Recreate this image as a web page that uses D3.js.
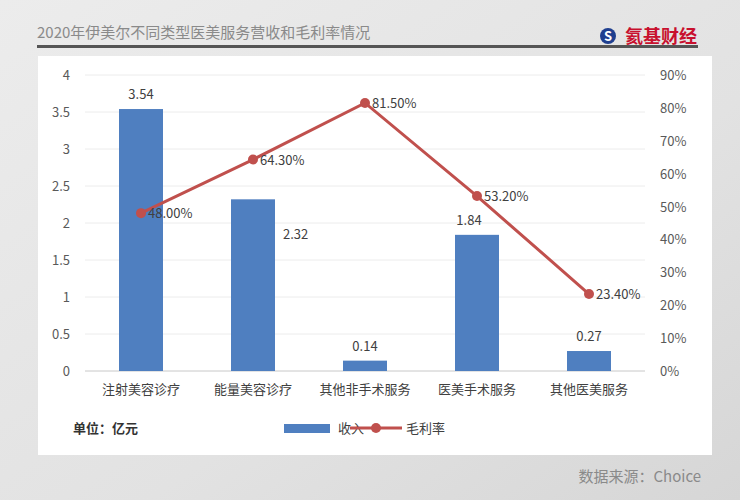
<!DOCTYPE html>
<html><head><meta charset="utf-8">
<script src="https://cdn.jsdelivr.net/npm/d3@7"></script>
<style>body{margin:0;background:#e6e6e6;}svg{display:block;}</style>
</head><body><div class="canvas"></div>
<script>
var categories=["注射美容诊疗","能量美容诊疗","其他非手术服务","医美手术服务","其他医美服务"];
var revenue=[3.54,2.32,0.14,1.84,0.27];
var margin=[48.0,64.3,81.5,53.2,23.4];
var leftTicks=[0,0.5,1,1.5,2,2.5,3,3.5,4];
var rightTicks=[0,10,20,30,40,50,60,70,80,90];

const svg=d3.select(".canvas").append("svg").attr("width",740).attr("height",500);
const font="'Noto Sans CJK SC','Noto Sans',sans-serif";

var bg=svg.append("defs").append("linearGradient").attr("id","bg").attr("x1",0).attr("x2",1).attr("y1",0).attr("y2",1);
bg.append("stop").attr("offset","0%").attr("stop-color","#ececec");
bg.append("stop").attr("offset","60%").attr("stop-color","#e2e2e2");
bg.append("stop").attr("offset","100%").attr("stop-color","#d6d6d6");
svg.append("rect").attr("width",740).attr("height",500).attr("fill","url(#bg)");

svg.append("text").text("2020年伊美尔不同类型医美服务营收和毛利率情况")
   .attr("x",37).attr("y",38).attr("font-family",font).attr("font-size",15).attr("fill","#8a8a8a");
svg.append("rect").attr("x",37).attr("y",45).attr("width",661).attr("height",3).attr("fill","#555");
svg.append("circle").attr("cx",608).attr("cy",36).attr("r",8).attr("fill","#1f3f8f");
svg.append("text").text("S").attr("x",608).attr("y",41).attr("text-anchor","middle").attr("font-size",13)
   .attr("font-weight","bold").attr("fill","#fff").attr("font-family",font);
svg.append("text").text("氦基财经").attr("x",697).attr("y",43).attr("text-anchor","end")
   .attr("font-family",font).attr("font-size",18).attr("font-weight","bold").attr("fill","#c8102e");

svg.append("rect").attr("x",38).attr("y",56).attr("width",674).attr("height",399).attr("fill","#fff");

var x=d3.scaleBand().domain(categories).range([85,645]);
var yL=d3.scaleLinear().domain([0,4]).range([371,75]);
var yR=d3.scaleLinear().domain([0,90]).range([371,75]);

svg.append("g").selectAll("line").data(leftTicks).enter().append("line")
   .attr("x1",85).attr("x2",645).attr("y1",d=>yL(d)).attr("y2",d=>yL(d))
   .attr("stroke",d=>d==0?"#c8c8c8":"#ececec");
svg.append("g").selectAll("text").data(leftTicks).enter().append("text")
   .text(d=>d).attr("x",70).attr("y",d=>yL(d)+5).attr("text-anchor","end")
   .attr("font-family",font).attr("font-size",13).attr("fill","#595959");
svg.append("g").selectAll("text").data(rightTicks).enter().append("text")
   .text(d=>d+"%").attr("x",660).attr("y",d=>yR(d)+5)
   .attr("font-family",font).attr("font-size",13).attr("fill","#595959");

var bw=44;
svg.append("g").selectAll("rect").data(revenue).enter().append("rect")
   .attr("x",(d,i)=>x(categories[i])+x.bandwidth()/2-bw/2).attr("width",bw)
   .attr("y",d=>yL(d)).attr("height",d=>yL(0)-yL(d)).attr("fill","#4f7fc0");
svg.append("g").selectAll("text").data(revenue).enter().append("text")
   .text(d=>d.toFixed(2))
   .attr("x",(d,i)=>x(categories[i])+x.bandwidth()/2+(i==1?30:i==3?-8:0))
   .attr("y",(d,i)=>yL(d)+(i==1?40:-10))
   .attr("text-anchor",(d,i)=>i==1?"start":"middle")
   .attr("font-family",font).attr("font-size",13).attr("fill","#404040");

svg.append("g").selectAll("text").data(categories).enter().append("text")
   .text(d=>d).attr("x",d=>x(d)+x.bandwidth()/2).attr("y",394).attr("text-anchor","middle")
   .attr("font-family",font).attr("font-size",13).attr("fill","#404040");

var line=d3.line().x((d,i)=>x(categories[i])+x.bandwidth()/2).y(d=>yR(d));
svg.append("path").datum(margin).attr("d",line).attr("fill","none").attr("stroke","#c0504d").attr("stroke-width",3);
svg.append("g").selectAll("circle").data(margin).enter().append("circle")
   .attr("cx",(d,i)=>x(categories[i])+x.bandwidth()/2).attr("cy",d=>yR(d)).attr("r",5).attr("fill","#c0504d");
svg.append("g").selectAll("text").data(margin).enter().append("text")
   .text(d=>d.toFixed(2)+"%").attr("x",(d,i)=>x(categories[i])+x.bandwidth()/2+7).attr("y",d=>yR(d)+5)
   .attr("font-family",font).attr("font-size",13).attr("fill","#404040");

svg.append("text").text("单位：亿元").attr("x",73).attr("y",433).attr("font-family",font)
   .attr("font-size",13).attr("font-weight","bold").attr("fill","#333");
svg.append("rect").attr("x",284).attr("y",424).attr("width",46).attr("height",9).attr("fill","#4f7fc0");
svg.append("text").text("收入").attr("x",338).attr("y",433).attr("font-family",font).attr("font-size",13).attr("fill","#404040");
svg.append("line").attr("x1",350).attr("x2",402).attr("y1",428).attr("y2",428).attr("stroke","#c0504d").attr("stroke-width",3);
svg.append("circle").attr("cx",376).attr("cy",428).attr("r",5).attr("fill","#c0504d");
svg.append("text").text("毛利率").attr("x",406).attr("y",433).attr("font-family",font).attr("font-size",13).attr("fill","#404040");

svg.append("text").text("数据来源：Choice").attr("x",701).attr("y",482).attr("text-anchor","end")
   .attr("font-family",font).attr("font-size",15).attr("fill","#8a8a8a");
</script></body></html>
